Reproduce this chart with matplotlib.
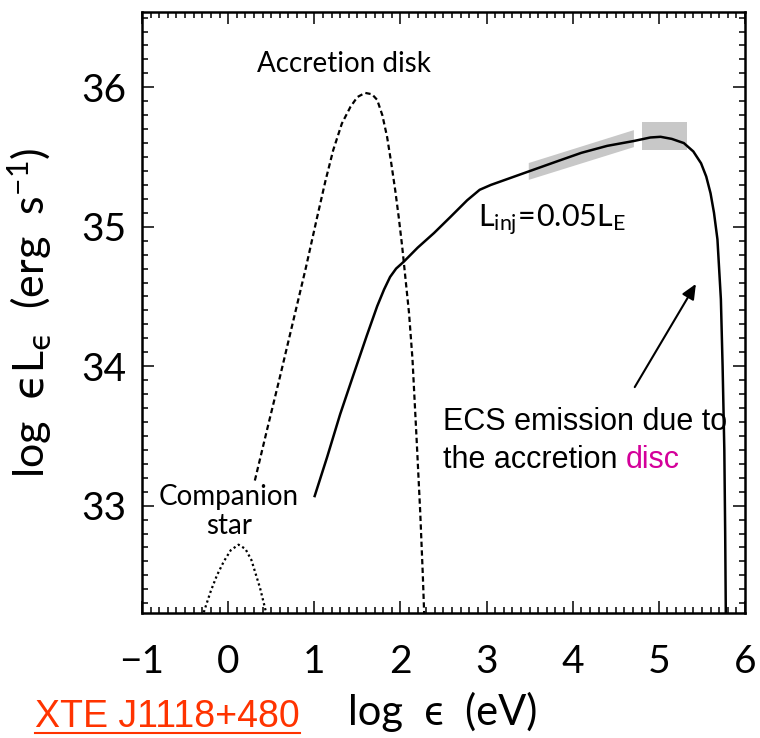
import matplotlib
matplotlib.use("Agg")
import matplotlib.pyplot as plt
from matplotlib.patches import Polygon, Rectangle
from matplotlib.lines import Line2D
import numpy as np

plt.rcParams['font.family'] = ['Lato', 'DejaVu Sans']
plt.rcParams['mathtext.fontset'] = 'custom'
plt.rcParams['mathtext.rm'] = 'Lato'
plt.rcParams['mathtext.it'] = 'Lato'
plt.rcParams['mathtext.sf'] = 'DejaVu Sans'

# ---- data ----
companion_x = [-0.30, -0.27, -0.20, -0.13, -0.05, 0.03, 0.12, 0.20, 0.27, 0.31, 0.37, 0.43, 0.46]
companion_y = [32.20, 32.26, 32.39, 32.50, 32.60, 32.68, 32.72, 32.69, 32.61, 32.53, 32.41, 32.26, 32.18]

disk_x = [0.31, 0.45, 0.60, 0.75, 0.90, 1.03, 1.13, 1.22, 1.32, 1.42, 1.50, 1.59, 1.67, 1.73,
          1.79, 1.845, 1.89, 1.94, 1.98, 2.02, 2.06, 2.10, 2.14, 2.19, 2.23, 2.26, 2.28]
disk_y = [33.18, 33.54, 33.92, 34.31, 34.70, 35.06, 35.33, 35.55, 35.74, 35.86, 35.93, 35.96, 35.95, 35.91,
          35.80, 35.645, 35.47, 35.26, 35.07, 34.86, 34.62, 34.38, 34.05, 33.45, 32.95, 32.50, 32.15]

ecs_x = [1.00, 1.15, 1.30, 1.45, 1.61, 1.73, 1.81, 1.88, 1.95, 2.04, 2.20, 2.39, 2.58, 2.775, 2.92, 3.05,
         3.30, 3.55, 3.80, 4.10, 4.40, 4.71, 4.90, 5.02, 5.15, 5.29, 5.40, 5.49, 5.55, 5.60, 5.64,
         5.68, 5.72, 5.74, 5.76, 5.77, 5.78]
ecs_y = [33.06, 33.35, 33.655, 33.93, 34.22, 34.43, 34.55, 34.64, 34.70, 34.75, 34.85, 34.955, 35.07, 35.19, 35.265, 35.30,
         35.355, 35.41, 35.465, 35.53, 35.58, 35.615, 35.64, 35.645, 35.63, 35.60, 35.54, 35.455, 35.36, 35.24, 35.10,
         34.91, 34.48, 34.00, 33.40, 32.80, 32.00]

band_x = [3.49, 3.49, 4.71, 4.71]
band_y = [35.336, 35.457, 35.693, 35.571]
box_x = [4.81, 5.33]
box_y = [35.55, 35.75]

xticks = [-1, 0, 1, 2, 3, 4, 5, 6]
xticklabels = ['\u22121', '0', '1', '2', '3', '4', '5', '6']
yticks = [33, 34, 35, 36]
yticklabels = ['33', '34', '35', '36']

W, H = 760, 738
fig = plt.figure(figsize=(W / 100, H / 100), dpi=100)
ax = fig.add_axes([142 / W, 1 - 613 / H, (745 - 142) / W, (613 - 12) / H])
ax.set_xlim(-1, 6)
ax.set_ylim(32.23, 36.54)

# shaded regions
ax.add_patch(Polygon(list(zip(band_x, band_y)), closed=True, facecolor='#c8c8c8', edgecolor='none', zorder=1))
ax.add_patch(Rectangle((box_x[0], box_y[0]), box_x[1] - box_x[0], box_y[1] - box_y[0],
                       facecolor='#c8c8c8', edgecolor='none', zorder=1))

ax.plot(companion_x, companion_y, color='black', lw=1.6, linestyle=(0, (1.0, 1.3)), zorder=2)
ax.plot(disk_x, disk_y, color='black', lw=1.6, linestyle=(0, (2.4, 1.5)), zorder=2)
ax.plot(ecs_x, ecs_y, color='black', lw=1.8, solid_capstyle='butt', zorder=3)

# ticks
ax.set_xticks(xticks)
ax.set_xticklabels(xticklabels)
ax.set_yticks(yticks)
ax.set_yticklabels(yticklabels)
ax.set_xticks(np.arange(-1, 6.001, 0.1), minor=True)
ax.set_yticks(np.arange(32.3, 36.54, 0.1), minor=True)
ax.tick_params(which='both', direction='in', top=True, right=True, width=1.1, color='black')
ax.tick_params(which='major', length=8.6)
ax.tick_params(which='minor', length=4.3)
ax.tick_params(axis='x', which='major', pad=22, labelsize=28)
ax.tick_params(axis='y', which='major', pad=11, labelsize=28)
for sp in ax.spines.values():
    sp.set_linewidth(1.8)

# axis labels
ax.set_xlabel('log  \u03f5  (eV)', fontsize=30)
ax.xaxis.set_label_coords((443 - 142) / (745 - 142), -(712 - 613) / (613 - 12), transform=ax.transAxes)
ax.xaxis.label.set_va('center')
ax.set_ylabel('log  $\\mathsf{\u03f5}\\mathrm{L}_{\\mathsf{\u03f5}}$  (erg  s$^{-1}$)', fontsize=31)
ax.yaxis.set_label_coords(-(142 - 30) / (745 - 142), 0.5, transform=ax.transAxes)
ax.yaxis.label.set_va('center')

# annotations
ax.text(1.34, 36.107, 'Accretion disk', fontsize=20, ha='center', va='baseline')
ax.text(0.012, 33.007, 'Companion', fontsize=20, ha='center', va='baseline')
ax.text(0.012, 32.80, 'star', fontsize=20, ha='center', va='baseline')
ax.text(2.90, 35.0, r'$\mathrm{L_{inj}\!=\!0.05L_{E}}$', fontsize=22, ha='left', va='baseline')

ax.annotate('', xy=(5.43, 34.59), xytext=(4.72, 33.85),
            arrowprops=dict(arrowstyle='-|>,head_length=0.9,head_width=0.4', color='black', lw=1.5,
                            shrinkA=0, shrinkB=0))

ecs_font = dict(family=['Liberation Sans', 'DejaVu Sans'], fontsize=22)
fig.text(443 / W, 1 - 430 / H, 'ECS emission due to', ha='left', va='baseline', **ecs_font)
t2 = fig.text(443 / W, 1 - 468 / H, 'the accretion', ha='left', va='baseline', **ecs_font)
fig.canvas.draw()
ax.annotate('disc', xy=(1, 0), xycoords=t2, xytext=(6, 0), textcoords='offset points',
            ha='left', va='bottom', color='#d4009a', **ecs_font)

# red underlined source name
t3 = fig.text(35 / W, 1 - 727 / H, 'XTE J1118+480', ha='left', va='baseline',
              family=['Liberation Sans', 'DejaVu Sans'], fontsize=27, color='#ff3300')
fig.canvas.draw()
bb = t3.get_window_extent()
yline = (H - 733) / H
fig.add_artist(Line2D([bb.x0 / W, bb.x1 / W], [yline, yline], color='#ff3300', lw=1.5))

fig.savefig('out.png', dpi=100)
